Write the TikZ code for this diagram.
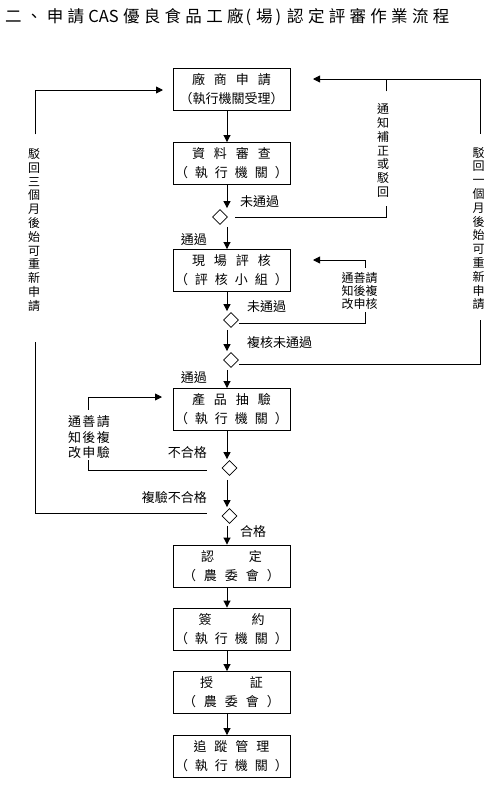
\documentclass[tikz,border=0pt]{standalone}
\usepackage{fontspec}
\newfontfamily\cjk{Noto Sans CJK TC}
\usetikzlibrary{arrows.meta,shapes.geometric}
\newlength\chgap
\def\spx#1{\ifx#1\relax\unskip\else#1\hspace{\chgap}\expandafter\spx\fi}
\newcommand\chsp[2]{{\setlength\chgap{#1}\spx#2\relax}}
\begin{document}
\begin{tikzpicture}[x=1pt,y=-1pt,
  box/.style={draw,line width=0.9pt,minimum width=117pt,minimum height=42pt,inner sep=0pt,align=center,font=\cjk\fontsize{13}{19}\selectfont},
  dia/.style={draw,diamond,minimum width=15pt,minimum height=15pt,inner sep=0pt,line width=0.8pt},
  arr/.style={-{Triangle[length=7pt,width=7pt]},line width=0.9pt},
  ln/.style={line width=0.9pt},
  lbl/.style={font=\cjk\fontsize{13}{13}\selectfont,inner sep=0pt},
  vnote/.style={font=\cjk\fontsize{12}{13.8}\selectfont,align=center,inner sep=0pt}]
\useasboundingbox (0,0) rectangle (500,788);
\fill[white] (0,0) rectangle (500,788);

% title
\node[anchor=west,inner sep=0pt,font=\cjk\fontsize{16.5}{16.5}\selectfont] (title) at (5,17.5)
  {\chsp{4.3pt}{二、申請}\hspace{4.3pt}CAS\hspace{4.3pt}\chsp{4.3pt}{優良食品工廠}\hspace{2pt}(\hspace{5pt}場\hspace{3pt})\hspace{6pt}\chsp{4.3pt}{認定評審作業流程}};

% main line column
\coordinate (X) at (227,0);

% boxes
\node[box] (b1) at (231.5,89) {\chsp{9pt}{廠商申請}\\（執行機關受理）};
\node[box] (b2) at (231.5,163.5) {\chsp{9pt}{資料審查}\\\chsp{7pt}{（執行機關）}};
\node[box] (b3) at (231.5,270.5) {\chsp{9pt}{現場評核}\\\chsp{7pt}{（評核小組）}};
\node[box] (b4) at (231.5,409.5) {\chsp{9pt}{產品抽驗}\\\chsp{7pt}{（執行機關）}};
\node[box] (b5) at (231.5,566) {認\hspace{35pt}定\\\chsp{8pt}{（農委會）}};
\node[box] (b6) at (231.5,629) {簽\hspace{40pt}約\\\chsp{7pt}{（執行機關）}};
\node[box] (b7) at (231.5,692.5) {授\hspace{37pt}証\\\chsp{8pt}{（農委會）}};
\node[box] (b8) at (231.5,756.5) {\chsp{8pt}{追蹤管理}\\\chsp{7pt}{（執行機關）}};

% diamonds
\node[dia] (d1) at (220,217) {};
\node[dia] (d2) at (231,320) {};
\node[dia] (d3) at (231,360) {};
\node[dia] (d4) at (229.5,468) {};
\node[dia] (d5) at (229.5,516) {};

% main flow
\draw[arr] (b1.south -| X) -- (b2.north -| X);
\draw[arr] (b2.south -| X) -- ([yshift=1pt]d1.north -| X);
\draw[arr] ([yshift=-2pt]d1.south -| X) -- (b3.north -| X);
\draw[arr] (b3.south -| X) -- ([yshift=1pt]d2.north -| X);
\draw[arr] ([yshift=-2pt]d2.south -| X) -- ([yshift=1pt]d3.north -| X);
\draw[arr] ([yshift=-2pt]d3.south -| X) -- (b4.north -| X);
\draw[arr] (b4.south -| X) -- ([yshift=1pt]d4.north -| X);
\draw[arr] ([yshift=-4pt]d4.south -| X) -- ([yshift=1pt]d5.north -| X);
\draw[arr] ([yshift=-2pt]d5.south -| X) -- (b5.north -| X);
\draw[arr] (b5.south -| X) -- (b6.north -| X);
\draw[arr] (b6.south -| X) -- (b7.north -| X);
\draw[arr] (b7.south -| X) -- (b8.north -| X);

% labels
\node[lbl,anchor=west] (l1) at (240,202) {未通過};
\node[lbl,anchor=east] (l2) at (207,240) {通過};
\node[lbl,anchor=west] (l3) at (247,307) {未通過};
\node[lbl,anchor=west] (l4) at (247,343) {複核未通過};
\node[lbl,anchor=east] (l5) at (207,378) {通過};
\node[lbl,anchor=east] (l6) at (207,453) {不合格};
\node[lbl,anchor=east] (l7) at (207,498) {複驗不合格};
\node[lbl,anchor=west] (l8) at (240,532) {合格};

% right notes
\coordinate (C1) at (386,0);
\coordinate (C2) at (480,0);
\coordinate (C3) at (365,0);
\node[vnote] (n1) at (383,150.5) {通\\知\\補\\正\\或\\駁\\回};
\node[vnote] (n2) at (478.5,228.5) {駁\\回\\一\\個\\月\\後\\始\\可\\重\\新\\申\\請};
\node[font=\cjk\fontsize{12}{13}\selectfont,align=center,inner sep=0pt] (n3) at (359.5,291) {通善請\\知後複\\改申核};

\coordinate (TA) at (313,79);
\coordinate (A3) at (313,260);
\path (n1.north -| C1) ++(0,-12) coordinate (n1t);
\path (n1.south -| C1) ++(0,8) coordinate (n1b);
\path (n2.north -| C2) ++(0,-13) coordinate (n2t);
\path (n2.south -| C2) ++(0,10) coordinate (n2b);
\path (n3.north -| C3) ++(0,-4.5) coordinate (n3t);
\path (n3.south -| C3) ++(0,2.5) coordinate (n3b);

\draw[arr] (n2t) |- (TA);
\draw[ln] (n1t) -- (n1t |- TA);
\draw[ln] ([xshift=7.5pt,yshift=-0.5pt]d1.east) -| (n1b);
\draw[ln] ([xshift=0.5pt,yshift=-4pt]d3.east) -| (n2b);
\draw[ln] ([xshift=0.5pt,yshift=-3pt]d2.east) -| (n3b);
\draw[arr] (n3t) |- (A3);

% left notes
\coordinate (C4) at (88,0);
\coordinate (C5) at (35,0);
\node[font=\cjk\fontsize{13}{15.5}\selectfont,align=center,inner sep=0pt] (n4) at (89,437.5)
  {\chsp{1.5pt}{通善請}\\\chsp{1.5pt}{知後複}\\\chsp{1.5pt}{改申驗}};
\node[vnote] (n5) at (34,230) {駁\\回\\三\\個\\月\\後\\始\\可\\重\\新\\申\\請};
\coordinate (A4) at (162,397);
\coordinate (A5) at (163,90);
\path (n4.north -| C4) ++(0,-6) coordinate (n4t);
\path (n4.south -| C4) ++(0,1) coordinate (n4b);
\path (n5.north -| C5) ++(0,-14) coordinate (n5t);
\path (n5.south -| C5) ++(0,30) coordinate (n5b);

\draw[arr] (n4t) |- (A4);
\draw[ln] ([xshift=-15pt,yshift=-2pt]d4.west) -| (n4b);
\draw[arr] (n5t) |- (A5);
\draw[ln] ([xshift=-15pt,yshift=3pt]d5.west) -| (n5b);
\end{tikzpicture}
\end{document}
